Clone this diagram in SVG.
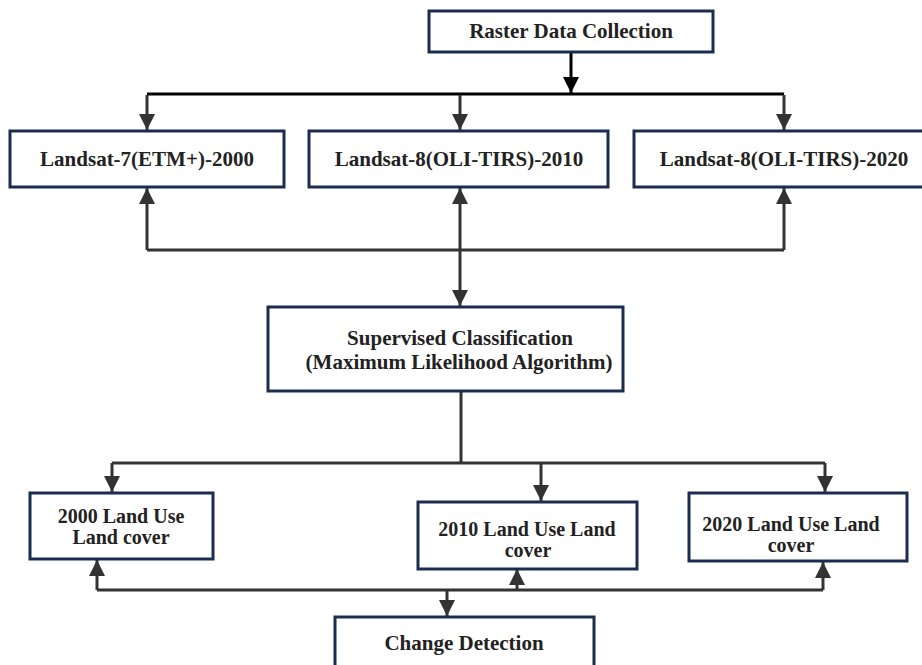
<svg xmlns="http://www.w3.org/2000/svg" width="922" height="665" viewBox="0 0 922 665">
<style>
.box{fill:#fff;stroke:#1b2d4f;stroke-width:3}
.t{font-family:'Liberation Serif',serif;font-weight:700;font-size:21px;fill:#222;text-anchor:middle}
.s{font-size:20px}
.c{fill:none;stroke:#333;stroke-width:3}
.k{fill:none;stroke:#000;stroke-width:3}
</style>
<defs>
<marker id="ah" viewBox="0 0 16 16" markerWidth="16" markerHeight="16" refX="16" refY="8" orient="auto" markerUnits="userSpaceOnUse"><path d="M0,0 L16,8 L0,16 z" fill="#333"/></marker>
<marker id="ahk" viewBox="0 0 16 16" markerWidth="16" markerHeight="16" refX="16" refY="8" orient="auto" markerUnits="userSpaceOnUse"><path d="M0,0 L16,8 L0,16 z" fill="#000"/></marker>
</defs>
<rect width="922" height="665" fill="#fff"/>
<g id="connectors">
<path class="k" d="M571,52 V93" marker-end="url(#ahk)"/>
<path class="k" d="M147,94 H784"/>
<path class="c" d="M147,95 V130" marker-end="url(#ah)"/>
<path class="c" d="M460,95 V130" marker-end="url(#ah)"/>
<path class="c" d="M784,95 V130" marker-end="url(#ah)"/>
<path class="c" d="M147,250 H784"/>
<path class="c" d="M147,250 V188" marker-end="url(#ah)"/>
<path class="c" d="M460,250 V188" marker-end="url(#ah)"/>
<path class="c" d="M784,250 V188" marker-end="url(#ah)"/>
<path class="c" d="M460,250 V306" marker-end="url(#ah)"/>
<path class="c" d="M461,391 V463"/>
<path class="c" d="M112,463 H825"/>
<path class="c" d="M112,463 V492" marker-end="url(#ah)"/>
<path class="c" d="M541,463 V501" marker-end="url(#ah)"/>
<path class="c" d="M825,463 V492" marker-end="url(#ah)"/>
<path class="c" d="M97,590 H823"/>
<path class="c" d="M97,590 V560" marker-end="url(#ah)"/>
<path class="c" d="M517,590 V569" marker-end="url(#ah)"/>
<path class="c" d="M823,590 V562" marker-end="url(#ah)"/>
<path class="c" d="M447,590 V616" marker-end="url(#ah)"/>
</g>
<g id="raster"><rect class="box" x="429" y="11" width="284" height="41"/><text class="t" x="571" y="38">Raster Data Collection</text></g>
<g id="landsat7"><rect class="box" x="10" y="131" width="274" height="56"/><text class="t" x="147" y="166">Landsat-7(ETM+)-2000</text></g>
<g id="landsat8-2010"><rect class="box" x="309" y="131" width="299" height="56"/><text class="t" x="459" y="166">Landsat-8(OLI-TIRS)-2010</text></g>
<g id="landsat8-2020"><rect class="box" x="634" y="131" width="300" height="56"/><text class="t" x="784" y="166">Landsat-8(OLI-TIRS)-2020</text></g>
<g id="supervised"><rect class="box" x="268" y="307" width="355" height="84"/><text class="t" x="460" y="345">Supervised Classification</text><text class="t" x="459" y="369">(Maximum Likelihood Algorithm)</text></g>
<g id="lulc2000"><rect class="box" x="30" y="493" width="183" height="66"/><text class="t s" x="121" y="523">2000 Land Use</text><text class="t s" x="121" y="544">Land cover</text></g>
<g id="lulc2010"><rect class="box" x="418" y="502" width="219" height="67"/><text class="t s" x="527" y="536">2010 Land Use Land</text><text class="t s" x="528" y="557">cover</text></g>
<g id="lulc2020"><rect class="box" x="689" y="493" width="218" height="68"/><text class="t s" x="791" y="531">2020 Land Use Land</text><text class="t s" x="791" y="552">cover</text></g>
<g id="change"><rect class="box" x="335" y="617" width="259" height="60"/><text class="t" x="464" y="650">Change Detection</text></g>
</svg>
